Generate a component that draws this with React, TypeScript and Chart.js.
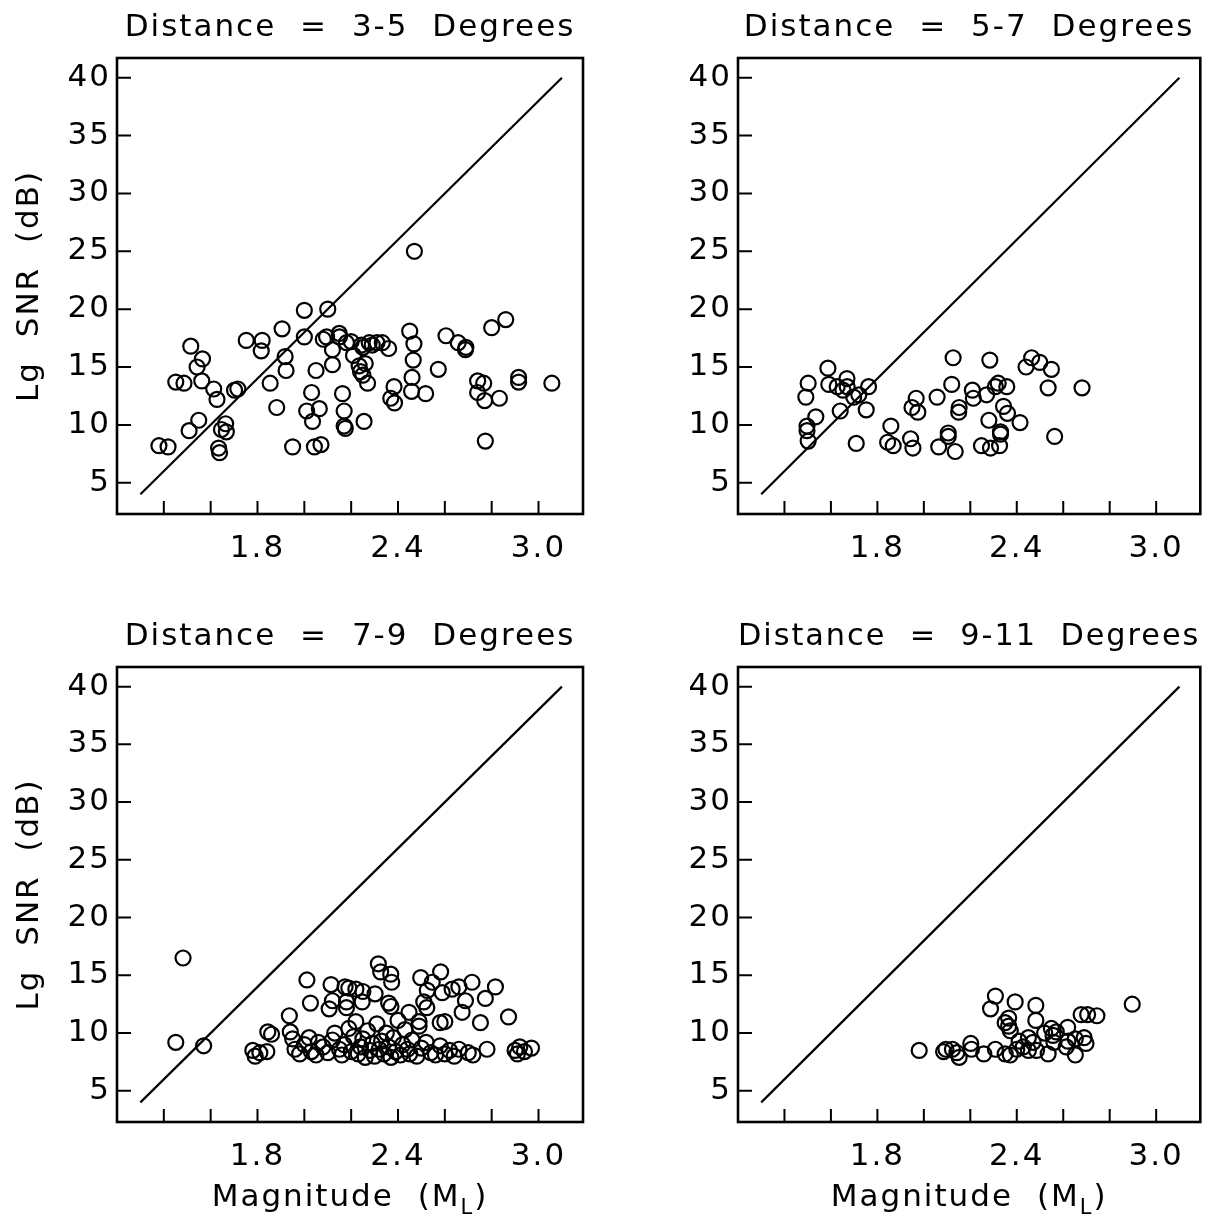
import React, { useEffect, useRef } from 'react';
import { Chart, registerables } from 'chart.js';

Chart.register(...registerables);

// ---------- axis definitions ----------
const yTickValues = [5, 10, 15, 20, 25, 30, 35, 40];
const xTickValues = [1.4, 1.6, 1.8, 2.0, 2.2, 2.4, 2.6, 2.8, 3.0];
const xLabelValues = [1.8, 2.4, 3.0];
const refLineMag = [1.3, 3.1];
const refLineSnr = [4, 40];

const panelTitles = [
  'Distance = 3-5 Degrees',
  'Distance = 5-7 Degrees',
  'Distance = 7-9 Degrees',
  'Distance = 9-11 Degrees',
];

// ---------- data: 3-5 degrees ----------
const mag35 = [
  2.47, 2.0, 2.1, 1.905, 2.0, 1.515, 1.565, 1.542, 1.562, 1.451,
  1.486, 1.613, 1.627, 1.702, 1.716, 1.752, 1.82, 1.816, 1.918, 1.922,
  1.854, 1.882, 1.549, 1.508, 1.664, 1.646, 1.667, 1.634, 1.638, 1.379,
  1.418, 1.95, 2.043, 2.071, 2.031, 2.01, 2.064, 2.035, 2.05, 2.12,
  2.095, 2.149, 2.12, 2.081, 2.2, 2.21, 2.244, 2.25, 2.277, 2.31,
  2.333, 2.36, 2.234, 2.26, 2.24, 2.25, 2.27, 2.163, 2.17, 2.17,
  2.175, 2.255, 2.383, 2.369, 2.385, 2.45, 2.468, 2.465, 2.46, 2.458,
  2.518, 2.572, 2.605, 2.657, 2.688, 2.69, 2.8, 2.86, 2.74, 2.766,
  2.74, 2.77, 2.833, 2.773, 2.915, 2.915, 3.057, 2.15, 2.18, 2.29,
];
const snr35 = [
  25.0, 19.9, 20.0, 18.3, 17.6, 16.8, 15.7, 15.0, 13.8, 13.7,
  13.6, 13.1, 12.2, 13.0, 13.1, 17.3, 17.3, 16.4, 15.9, 14.7,
  13.6, 11.5, 10.4, 9.5, 10.1, 9.6, 9.4, 8.0, 7.6, 8.2,
  8.1, 8.1, 8.1, 8.3, 12.8, 11.2, 11.4, 10.3, 14.7, 15.2,
  17.6, 17.9, 16.5, 17.4, 17.2, 16.0, 16.9, 16.7, 17.1, 17.1,
  17.1, 16.6, 15.1, 15.3, 14.6, 14.3, 13.6, 12.7, 11.2, 9.9,
  9.7, 10.3, 13.3, 12.3, 11.9, 18.1, 17.0, 15.6, 14.1, 12.9,
  12.7, 14.8, 17.7, 17.1, 16.5, 16.7, 18.4, 19.1, 13.8, 13.6,
  12.8, 12.1, 12.3, 8.6, 14.1, 13.7, 13.6, 17.6, 17.1, 16.9,
];

// ---------- data: 5-7 degrees ----------
const mag57 = [
  2.126, 2.284, 2.464, 2.499, 2.44, 2.549, 2.535, 2.681, 2.563, 1.587,
  1.502, 1.492, 1.591, 1.627, 1.669, 1.67, 1.652, 1.698, 1.72, 1.762,
  1.752, 1.64, 1.535, 1.497, 1.497, 1.502, 1.709, 1.858, 1.844, 1.868,
  1.943, 1.953, 1.967, 1.949, 1.974, 2.057, 2.12, 2.152, 2.15, 2.064,
  2.105, 2.105, 2.135, 2.209, 2.213, 2.27, 2.308, 2.32, 2.357, 2.343,
  2.36, 2.414, 2.28, 2.33, 2.33, 2.248, 2.287, 2.326,
];
const snr57 = [
  15.8, 15.6, 15.8, 15.4, 15.0, 14.8, 13.2, 13.2, 9.0, 14.9,
  13.6, 12.4, 13.5, 13.3, 14.0, 13.3, 13.0, 12.4, 12.6, 13.3,
  11.3, 11.2, 10.7, 9.9, 9.5, 8.6, 8.4, 9.9, 8.5, 8.2,
  8.8, 8.0, 12.3, 11.5, 11.1, 12.4, 13.5, 11.5, 11.1, 8.1,
  9.3, 9.0, 7.7, 13.0, 12.3, 12.6, 13.3, 13.6, 13.3, 11.6,
  11.0, 10.2, 10.4, 9.4, 9.2, 8.2, 8.0, 8.2,
];

// ---------- data: 7-9 degrees ----------
const mag79 = [
  1.482, 1.451, 1.57, 2.316, 2.326, 2.369, 2.373, 2.011, 2.026, 1.936,
  1.844, 2.114, 2.174, 2.19, 2.22, 2.25, 2.497, 2.582, 2.546, 2.525,
  2.589, 2.631, 2.66, 2.716, 2.816, 2.773, 2.688, 2.674, 2.752, 2.872,
  2.523, 2.51, 2.106, 2.12, 2.18, 2.18, 2.247, 2.302, 2.36, 2.37,
  2.447, 2.49, 2.49, 2.58, 2.6, 1.78, 1.79, 1.81, 1.84, 1.86,
  1.94, 1.95, 1.96, 1.98, 2.0, 2.02, 2.03, 2.05, 2.06, 2.08,
  2.1, 2.12, 2.13, 2.15, 2.16, 2.17, 2.19, 2.2, 2.21, 2.22,
  2.23, 2.24, 2.25, 2.26, 2.27, 2.28, 2.29, 2.3, 2.31, 2.32,
  2.33, 2.34, 2.35, 2.36, 2.37, 2.38, 2.39, 2.4, 2.41, 2.42,
  2.43, 2.44, 2.45, 2.46, 2.48, 2.5, 2.52, 2.54, 2.56, 2.58,
  2.6, 2.62, 2.64, 2.66, 2.7, 2.72, 2.78, 2.9, 2.91, 2.92,
  2.94, 2.97,
];
const snr79 = [
  16.5, 9.2, 8.9, 16.0, 15.3, 15.1, 14.4, 14.6, 12.6, 11.5,
  10.1, 14.2, 14.0, 13.9, 13.8, 13.6, 14.8, 15.3, 14.4, 13.7,
  13.5, 13.8, 14.0, 14.4, 14.0, 13.0, 12.8, 11.8, 10.9, 11.4,
  12.2, 12.7, 12.1, 12.8, 12.2, 12.7, 12.7, 13.4, 12.6, 12.3,
  11.8, 11.0, 10.6, 10.9, 11.0, 8.5, 8.0, 8.3, 8.4, 9.9,
  10.1, 9.5, 8.6, 8.2, 9.0, 9.6, 8.4, 8.1, 9.2, 8.8,
  8.3, 9.4, 10.0, 8.6, 8.1, 9.0, 10.4, 8.4, 9.7, 11.0,
  8.2, 8.8, 9.5, 7.9, 10.2, 8.5, 9.1, 8.0, 10.8, 8.6,
  9.3, 8.2, 10.0, 8.8, 7.9, 9.6, 8.4, 11.1, 8.1, 9.0,
  10.3, 8.6, 8.2, 9.4, 8.0, 8.7, 9.2, 8.3, 8.1, 8.9,
  8.2, 8.5, 8.0, 8.6, 8.3, 8.1, 8.6, 8.5, 8.2, 8.8,
  8.4, 8.7,
];

// ---------- data: 9-11 degrees ----------
const mag911 = [
  2.308, 2.287, 2.393, 2.482, 2.897, 2.365, 2.35, 2.365, 2.372, 2.482,
  2.549, 2.556, 2.619, 2.677, 2.705, 2.745, 2.69, 2.698, 2.652, 2.652,
  2.613, 2.535, 2.45, 2.47, 2.485, 2.45, 2.428, 2.4, 2.372, 2.35,
  2.308, 2.258, 2.202, 2.205, 2.152, 2.142, 2.123, 2.095, 2.085, 1.98,
  2.52, 2.57, 2.56, 2.62, 2.41,
];
const snr911 = [
  13.2, 12.1, 12.7, 12.4, 12.5, 11.3, 10.9, 10.6, 10.2, 11.1,
  10.4, 9.8, 10.5, 11.6, 11.6, 11.5, 9.6, 9.1, 9.5, 8.1,
  8.8, 8.2, 9.6, 9.2, 8.5, 8.5, 8.8, 8.6, 8.1, 8.2,
  8.6, 8.2, 9.1, 8.6, 7.9, 8.3, 8.6, 8.6, 8.4, 8.5,
  10.0, 10.1, 9.2, 9.3, 9.3,
];

const FAMILY = '"DejaVu Sans", "Liberation Sans", sans-serif';
const FONT_SIZE = 31;
const AREA_LEFT = 117;
const AREA_RIGHT = 583;
const AREA_TOP = 58;

type PanelProps = {
  title: string;
  mags: number[];
  snrs: number[];
  left: number;
  top: number;
  width: number;
  height: number;
  areaBottom: number;
  showYTitle: boolean;
  showXTitle: boolean;
};

function Panel(props: PanelProps) {
  const { title, mags, snrs, left, top, width, height, areaBottom, showYTitle, showXTitle } = props;
  const ref = useRef<HTMLCanvasElement | null>(null);

  useEffect(() => {
    const canvas = ref.current;
    if (!canvas) return;

    const framePlugin = {
      id: 'framePlugin',
      beforeDraw(chart: any) {
        const ctx = chart.ctx as any;
        ctx.letterSpacing = '2px';
        ctx.wordSpacing = '12px';
      },
      afterDraw(chart: any) {
        const { ctx, chartArea: a, scales } = chart;
        ctx.save();
        ctx.strokeStyle = '#000';
        ctx.lineWidth = 2.6;
        ctx.strokeRect(a.left, a.top, a.right - a.left, a.bottom - a.top);
        ctx.lineWidth = 2;
        ctx.beginPath();
        for (const v of xTickValues) {
          const px = scales.x.getPixelForValue(v);
          ctx.moveTo(px, a.bottom);
          ctx.lineTo(px, a.bottom - 13);
        }
        for (const v of yTickValues) {
          const py = scales.y.getPixelForValue(v);
          ctx.moveTo(a.left, py);
          ctx.lineTo(a.left + 14, py);
        }
        ctx.stroke();

        if (showXTitle) {
          const mainFont = `${FONT_SIZE}px ${FAMILY}`;
          const subFont = `21px ${FAMILY}`;
          const part1 = 'Magnitude (M';
          const part2 = 'L';
          const part3 = ')';
          ctx.fillStyle = '#000';
          ctx.textAlign = 'left';
          ctx.textBaseline = 'alphabetic';
          ctx.font = mainFont;
          const w1 = ctx.measureText(part1).width;
          const w3 = ctx.measureText(part3).width;
          ctx.font = subFont;
          const w2 = ctx.measureText(part2).width;
          const total = w1 + w2 + w3;
          const cx = (a.left + a.right) / 2;
          const x0 = cx - total / 2;
          const base = a.bottom + 84;
          ctx.font = mainFont;
          ctx.fillText(part1, x0, base);
          ctx.font = subFont;
          ctx.fillText(part2, x0 + w1, base + 8);
          ctx.font = mainFont;
          ctx.fillText(part3, x0 + w1 + w2, base);
        }
        ctx.restore();
      },
    };

    const font = { family: FAMILY, size: FONT_SIZE };
    const titleLine = FONT_SIZE * 1.2;

    const chart = new Chart(canvas, {
      type: 'scatter',
      data: {
        datasets: [
          {
            type: 'line',
            data: refLineMag.map((m, i) => ({ x: m, y: refLineSnr[i] })),
            borderColor: '#000',
            borderWidth: 2.2,
            pointRadius: 0,
            fill: false,
            tension: 0,
          } as any,
          {
            type: 'scatter',
            data: mags.map((m, i) => ({ x: m, y: snrs[i] })),
            pointRadius: 7.5,
            pointBorderWidth: 2.2,
            borderColor: '#000',
            pointBorderColor: '#000',
            backgroundColor: 'rgba(0,0,0,0)',
            pointBackgroundColor: 'rgba(0,0,0,0)',
            pointStyle: 'circle',
          } as any,
        ],
      },
      options: {
        responsive: false,
        maintainAspectRatio: false,
        animation: false,
        devicePixelRatio: 1,
        events: [],
        layout: { padding: { left: 0, right: width - AREA_RIGHT, top: 0, bottom: 0 } },
        plugins: {
          legend: { display: false },
          tooltip: { enabled: false },
          title: {
            display: true,
            fullSize: false,
            text: title,
            color: '#000',
            font: { family: FAMILY, size: FONT_SIZE, weight: 'normal', lineHeight: 1.2 },
            padding: { top: 9, bottom: AREA_TOP - 9 - titleLine },
          },
        },
        scales: {
          x: {
            type: 'linear',
            min: 1.2,
            max: 3.19,
            afterBuildTicks: (s: any) => {
              s.ticks = xLabelValues.map((v) => ({ value: v }));
            },
            afterFit: (s: any) => {
              s.height = height - areaBottom;
            },
            grid: { display: false, drawTicks: false },
            border: { display: false },
            ticks: {
              color: '#000',
              font,
              padding: 16,
              autoSkip: false,
              maxRotation: 0,
              callback: (v: any) => Number(v).toFixed(1),
            },
          },
          y: {
            type: 'linear',
            min: 2.3,
            max: 41.7,
            afterBuildTicks: (s: any) => {
              s.ticks = yTickValues.map((v) => ({ value: v }));
            },
            afterFit: (s: any) => {
              s.width = AREA_LEFT;
            },
            grid: { display: false, drawTicks: false },
            border: { display: false },
            ticks: {
              color: '#000',
              font,
              padding: 6,
              autoSkip: false,
              callback: (v: any) => String(v),
            },
            title: {
              display: showYTitle,
              text: 'Lg SNR (dB)',
              color: '#000',
              font: { family: FAMILY, size: FONT_SIZE, lineHeight: 1.2 },
              padding: { top: 11, bottom: 0 },
            },
          },
        },
      } as any,
      plugins: [framePlugin],
    });

    return () => {
      chart.destroy();
    };
  }, []);

  return (
    <canvas
      ref={ref}
      width={width}
      height={height}
      style={{ position: 'absolute', left, top, width, height }}
    />
  );
}

export default function App() {
  return (
    <div
      style={{
        position: 'absolute',
        left: 0,
        top: 0,
        width: 1210,
        height: 1225,
        background: '#fff',
        overflow: 'hidden',
      }}
    >
      <Panel title={panelTitles[0]} mags={mag35} snrs={snr35} left={0} top={0} width={605} height={609} areaBottom={514} showYTitle={true} showXTitle={false} />
      <Panel title={panelTitles[1]} mags={mag57} snrs={snr57} left={621} top={0} width={589} height={609} areaBottom={514} showYTitle={false} showXTitle={false} />
      <Panel title={panelTitles[2]} mags={mag79} snrs={snr79} left={0} top={609} width={605} height={616} areaBottom={513} showYTitle={true} showXTitle={true} />
      <Panel title={panelTitles[3]} mags={mag911} snrs={snr911} left={621} top={609} width={589} height={616} areaBottom={513} showYTitle={false} showXTitle={true} />
    </div>
  );
}
